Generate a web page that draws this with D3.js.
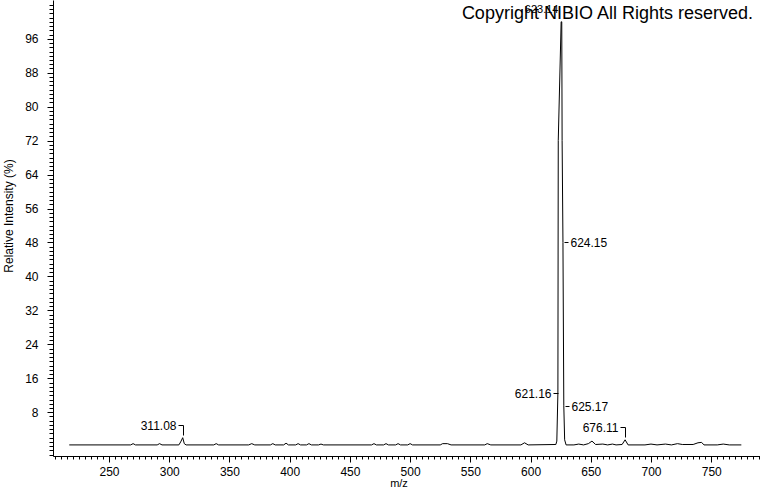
<!DOCTYPE html>
<html>
<head>
<meta charset="utf-8">
<script src="https://d3js.org/d3.v7.min.js"></script>
<style>
    body { margin: 0; background: #fff; }
    svg { display: block; font-family: "Liberation Sans", Arial, sans-serif; }
</style>
</head>
<body>
<svg id="chart" width="760" height="492"></svg>
<script>
// spectrum profile, m/z and relative intensity (%)
const profileMz = [217, 268, 270, 272, 290, 292, 294, 308, 309.5, 311.2, 312.5, 314, 337, 339, 341,
    366, 368.5, 371, 384, 386, 388, 395, 397, 399, 405, 407, 409, 414, 416, 418, 424, 426, 428,
    468, 470, 472, 478, 480, 482, 488, 490, 492, 498, 500, 502, 525, 527, 531, 534, 562, 564, 567,
    592, 595, 598, 621, 621.8, 622.7, 623.0, 625.4, 625.9, 626.2, 626.9, 627.6, 628.3, 629.5,
    636, 640, 644, 648, 651, 654, 660, 664, 668, 671, 676, 678.5, 681, 695, 700, 705, 712, 717,
    722, 726, 735, 739, 742, 744, 755, 760, 765, 775];
const profileInt = [0.3, 0.3, 0.6, 0.3, 0.3, 0.6, 0.3, 0.3, 1.0, 2.0, 0.6, 0.3, 0.3, 0.6, 0.3,
    0.3, 0.6, 0.3, 0.3, 0.6, 0.3, 0.3, 0.7, 0.3, 0.3, 0.6, 0.3, 0.3, 0.6, 0.3, 0.3, 0.5, 0.3,
    0.3, 0.6, 0.3, 0.3, 0.6, 0.3, 0.3, 0.6, 0.3, 0.3, 0.6, 0.3, 0.3, 0.6, 0.6, 0.3, 0.3, 0.6, 0.3,
    0.3, 0.8, 0.3, 0.4, 1.2, 12.5, 72, 100, 100, 72, 48, 9.5, 1.5, 0.3,
    0.3, 0.5, 0.3, 0.6, 1.2, 0.4, 0.5, 0.3, 0.5, 0.3, 0.4, 1.5, 0.3, 0.3, 0.5, 0.3, 0.5, 0.3,
    0.6, 0.4, 0.4, 0.8, 0.9, 0.3, 0.3, 0.5, 0.3, 0.3];

// annotated peaks
const peakLabels = ["311.08", "621.16", "623.14", "624.15", "625.17", "676.11"];
const peakPos = [311.2, 622.7, 625.6, 626.9, 627.6, 678.5];
const peakHeight = [2.0, 12.5, 100, 48, 9.5, 1.5];
const peakStyle = ["hook", "left", "top", "right", "right", "hook"];

// axis ticks
const xTicks = [250, 300, 350, 400, 450, 500, 550, 600, 650, 700, 750];
const yTicks = [8, 16, 24, 32, 40, 48, 56, 64, 72, 80, 88, 96];

const svg = d3.select("#chart");

const x = d3.scaleLinear().domain([203.5, 790.5]).range([53, 760]);
const y = d3.scaleLinear().domain([-2.43, 104.9]).range([456.5, 1]);

// minor ticks
const xMinor = d3.range(205, 791, 5);
const yMinor = d3.range(-2, 105, 1);

const gx = svg.append("g").attr("transform", "translate(0.5,456.5)");
gx.append("line").attr("x1", 53).attr("x2", 760).attr("stroke", "#000");
gx.selectAll(".mi").data(xMinor).join("line")
    .attr("x1", d => Math.round(x(d))).attr("x2", d => Math.round(x(d)))
    .attr("y1", 0).attr("y2", 3).attr("stroke", "#000");
gx.selectAll(".ma").data(xTicks).join("line")
    .attr("x1", d => Math.round(x(d))).attr("x2", d => Math.round(x(d)))
    .attr("y1", 0).attr("y2", 6).attr("stroke", "#000");
gx.selectAll("text").data(xTicks).join("text")
    .attr("x", d => x(d)).attr("y", 19)
    .attr("text-anchor", "middle").attr("font-size", 12)
    .text(d => d);

const gy = svg.append("g").attr("transform", "translate(53.5,0.5)");
gy.append("line").attr("y1", 0).attr("y2", 456).attr("stroke", "#000");
gy.selectAll(".mi").data(yMinor).join("line")
    .attr("y1", d => Math.round(y(d))).attr("y2", d => Math.round(y(d)))
    .attr("x1", 0).attr("x2", -4).attr("stroke", "#000");
gy.selectAll(".ma").data(yTicks).join("line")
    .attr("y1", d => Math.round(y(d))).attr("y2", d => Math.round(y(d)))
    .attr("x1", 0).attr("x2", -6).attr("stroke", "#000");
gy.selectAll("text").data(yTicks).join("text")
    .attr("x", -15).attr("y", d => y(d))
    .attr("dy", "0.35em")
    .attr("text-anchor", "end").attr("font-size", 12)
    .text(d => d);

// axis titles
svg.append("text").attr("x", 399).attr("y", 487)
    .attr("text-anchor", "middle").attr("font-size", 11).text("m/z");
svg.append("text")
    .attr("transform", "translate(13,216) rotate(-90)")
    .attr("text-anchor", "middle").attr("font-size", 12)
    .text("Relative Intensity (%)");

// spectrum
const profile = profileMz.map((m, i) => [m, profileInt[i]]);
svg.append("path")
    .datum(profile)
    .attr("fill", "none").attr("stroke", "#000").attr("stroke-width", 1)
    .attr("d", d3.line().x(d => x(d[0])).y(d => y(d[1])));

// peak labels
const lab = svg.append("g").attr("font-size", 12);
peakLabels.forEach((t, i) => {
    const px = Math.round(x(peakPos[i])) + 0.5;
    const py = Math.round(y(peakHeight[i])) + 0.5;
    const st = peakStyle[i];
    if (st === "hook") {
        lab.append("path").attr("fill", "none").attr("stroke", "#000")
            .attr("d", `M${px - 5},${py - 13}H${px}V${py - 3}`);
        lab.append("text").attr("x", px - 7).attr("y", py - 13).attr("dy", "0.35em")
            .attr("text-anchor", "end").text(t);
    } else if (st === "left") {
        lab.append("line").attr("x1", px - 5).attr("x2", px).attr("y1", py).attr("y2", py).attr("stroke", "#000");
        lab.append("text").attr("x", px - 7).attr("y", py).attr("dy", "0.35em")
            .attr("text-anchor", "end").text(t);
    } else if (st === "right") {
        lab.append("line").attr("x1", px + 1).attr("x2", px + 5).attr("y1", py).attr("y2", py).attr("stroke", "#000");
        lab.append("text").attr("x", px + 7).attr("y", py).attr("dy", "0.35em")
            .attr("text-anchor", "start").text(t);
    } else {
        lab.append("text").attr("x", px - 3).attr("y", py - 13).attr("dy", "0.35em")
            .attr("text-anchor", "end").attr("font-size", 11).text(t);
    }
});

// watermark (drawn over the top label, as in the original)
svg.append("text").attr("x", 753).attr("y", 19)
    .attr("text-anchor", "end").attr("font-size", 18)
    .text("Copyright NIBIO All Rights reserved.");
</script>
</body>
</html>
